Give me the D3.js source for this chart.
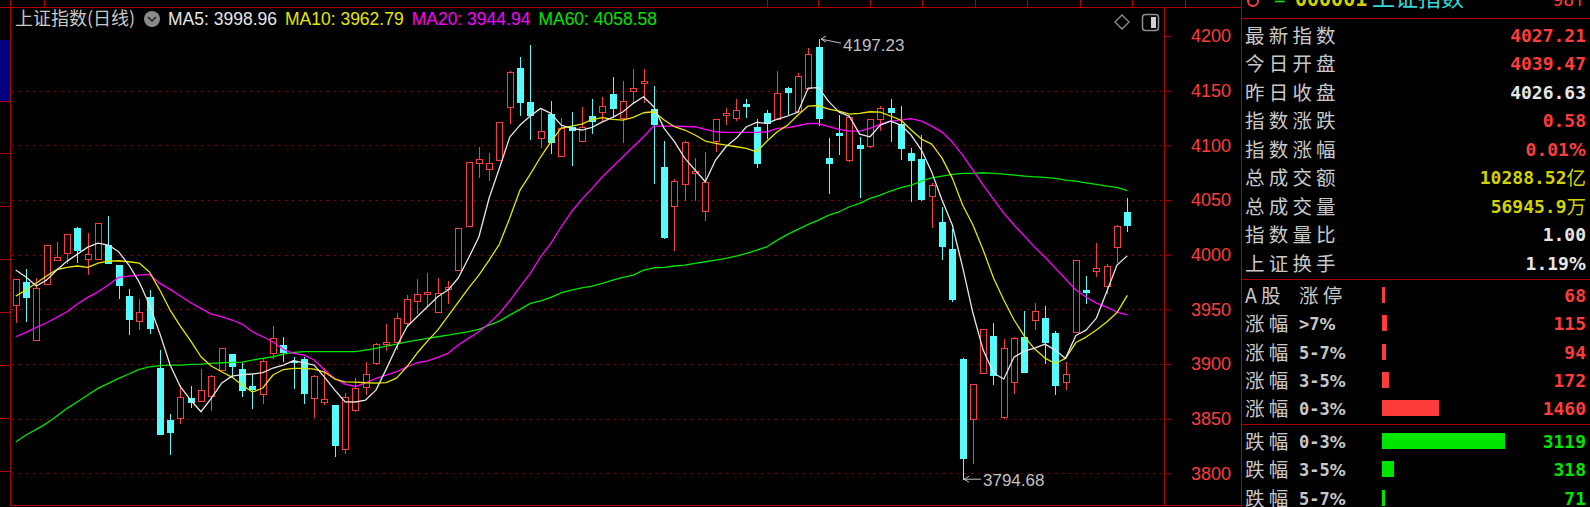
<!DOCTYPE html>
<html><head><meta charset="utf-8">
<script src="https://cdn.jsdelivr.net/npm/d3@7/dist/d3.min.js"></script>
<style>
html,body{margin:0;padding:0;background:#000;overflow:hidden}
svg{display:block}
</style></head>
<body>
<svg id="chart" width="1590" height="507"></svg>
<script>
// ---------------- data ----------------
const opens=[3953.7,3974.7,3922,3972.9,3994.9,4001.8,4024.1,3996,3995.9,4008.9,
3990.6,3962.5,3939.3,3961,3896.6,3848.8,3850.6,3868.6,3866.4,3871.2,
3894.2,3909.2,3895.2,3880.2,3872.6,3909.8,3917.4,3903,3904.6,3868.6,
3865.7,3862.5,3822.3,3857.9,3878.7,3900.7,3918.3,3920.4,3937.2,3957.6,
3964,3947.9,3968.3,3986.5,4026.2,4084.1,4078.7,4086.6,4134.8,4171,
4139.9,4107,4128.7,4090.5,4117.1,4104.3,4126.9,4130.8,4146.7,4125.3,
4150,4156.8,4133,4080.5,4044.5,4064.7,4074.7,4040.2,4104,4127.8,
4124.8,4137.8,4117.1,4129.9,4124.1,4152.2,4131.4,4152.7,4190.2,4088.7,
4111,4086.6,4100.3,4099.4,4124.1,4134.5,4119.3,4093,4087.5,4053.7,
4029.6,4004.9,3904.6,3849.4,3892.1,3925.6,3851.8,3883.8,3924.4,3940.3,
3941.8,3928.6,3883.8,3929.6,3967.7,3985.4,3971.6,4007.3,4039.47];
const highs=[3977.5,3987.2,3979,4009,4011.9,4018.6,4025.8,4020.1,4029.3,4035.4,
3991,3968.3,3959.9,3967.7,3912.8,3854,3881.3,3879.9,3895.2,3890,
3914.4,3909.5,3901.2,3889.7,3905.1,3935,3924.4,3906.1,3906.1,3890,
3896.1,3862.5,3873.2,3886.9,3902.1,3919,3936.6,3946.4,3963.1,3977.5,
3983,3979,3975.9,4024.5,4084.5,4098.2,4092.7,4121.6,4168.3,4180.6,
4191.8,4133,4140.6,4125.3,4130.2,4135.4,4142.1,4144,4162.8,4158.9,
4169.6,4169.6,4154.6,4104,4069,4104,4088.6,4094.2,4124.5,4133.9,
4142.1,4142.1,4124.1,4132.3,4168.3,4153.1,4165.9,4188.8,4197.23,4106.5,
4127.8,4128,4107.9,4124.5,4136,4142.4,4136,4097.3,4109.5,4065.8,
4043.3,4023.2,3905.2,3882,3932.5,3937.8,3922.6,3925,3948.8,3955.5,
3953.1,3930.5,3902.1,3995.5,3980.5,4010.4,3991.5,4027,4051.6];
const lows=[3938.7,3939.6,3922,3972.9,3994.9,3992.1,3993.3,3982.1,3995.9,3992.1,
3960.1,3927.5,3931.8,3928.6,3835.7,3817.7,3846.5,3861,3866.4,3857.7,
3894.2,3888.1,3870.7,3860,3864.3,3906,3902.8,3877.8,3864.6,3852,
3863.7,3816.1,3818.9,3857,3872.3,3900,3912.8,3913.5,3936,3946.9,
3954,3947.9,3956.1,3986,4026.2,4071.3,4068.3,4086.6,4120.7,4127.8,
4105.5,4098.8,4093.3,4090.5,4082,4104,4111,4123.2,4126.2,4103.4,
4139.9,4139.9,4065.8,4015,4004.3,4050,4050,4031.7,4094.8,4119.3,
4123.2,4126.2,4080.5,4107,4124,4128.4,4131,4152,4118.6,4056.2,
4091.8,4086,4053,4099,4114.1,4104,4087.5,4049.4,4050,4025.1,
3996.1,3957.9,3794.68,3809.7,3892,3881.7,3851,3873.8,3893,3931.8,
3901.2,3872.6,3876.9,3929,3956.1,3980.8,3964.7,3993.6,4021.9];
const closes=[3977.5,3961.6,3970,4008.9,3998.2,4018.6,4004.3,4000.6,4029.3,3992.1,
3972.6,3941.2,3947.3,3933.2,3835.7,3838.1,3870.3,3865.5,3876.2,3889.3,
3914.4,3898.6,3876.2,3876.9,3903.2,3923.8,3911.3,3901.8,3873.9,3889.3,
3867.7,3825.9,3870.1,3877.8,3890.9,3918.3,3920.4,3941.8,3959.5,3963.8,
3966.1,3965.2,3970.2,4024.1,4084.5,4087.3,4084.1,4121.6,4166.8,4139.9,
4127.8,4113.4,4103.4,4115.6,4114.1,4117.1,4122.6,4136.3,4134.5,4140.9,
4152.2,4158.9,4119.5,4015.9,4067.7,4103.4,4076.6,4066.8,4124.1,4129.9,
4132.3,4136,4083.6,4120.2,4147.6,4148.5,4163.7,4183.3,4124.7,4083.6,
4109.5,4126.2,4097.3,4124.1,4134.5,4130.2,4097.3,4086.6,4050.7,4063.7,
4008.2,3959.2,3813.8,3881.4,3932,3890,3914.4,3924.1,3893,3948.5,
3920.4,3880.8,3890.9,3995.1,3966.1,3987.5,3989.9,4026.63,4027.21];
const ma5=[3986,3979.6,3971.4,3976.8,3986,3994.2,4000.6,4007,4010.7,4008.9,
4002.7,3990.6,3975,3954,3928.1,3899.1,3879.3,3867.1,3856.4,3868.6,
3882.4,3889,3890.4,3890.9,3892.2,3896.4,3899.1,3903.2,3901.2,3899.1,
3888.1,3876.2,3865.5,3865.3,3867.1,3876.2,3895.4,3915.6,3933.9,3943.3,
3952.4,3961.6,3967.7,3978.7,3997,4016.2,4051.9,4079.3,4107.6,4118.6,
4126.9,4133.9,4129.3,4118.6,4115.6,4114.1,4116.5,4121.6,4125.7,4130.8,
4138.5,4144.5,4135.4,4115.6,4103.4,4088.4,4077.5,4066.8,4086.6,4098.8,
4106.5,4117.1,4121.1,4120.2,4124.1,4126.9,4130.5,4152.5,4152.9,4140.1,
4130.5,4126.6,4110.4,4107.9,4118.6,4122.3,4118.6,4109.5,4095.8,4075.6,
4050,4027.2,3988.7,3946.7,3912.8,3891.8,3886.3,3906.4,3911.9,3914.6,
3918.3,3912.8,3905.2,3926.1,3931.1,3942.1,3966.1,3990.6,3998.96];
const ma10=[3962.2,3967.7,3974.1,3980.5,3986.5,3988.5,3989.7,3988.5,3992.4,3994.2,
3994.5,3993.6,3992.4,3984.2,3967.7,3949.4,3934.8,3921.3,3906.7,3898.2,
3893,3888.1,3880.8,3874.4,3878.1,3890,3895,3896.1,3896.1,3895.4,
3892.7,3886.3,3883.8,3883.5,3882.9,3882.6,3883,3887.2,3897.5,3910.1,
3921,3931.1,3943.9,3956.7,3969.5,3981.4,3995.1,4009.8,4033.6,4059.2,
4073.8,4089.4,4103.4,4115.9,4117.7,4119.5,4123.7,4125.5,4123.8,4123.2,
4125.7,4129.9,4130.8,4123.2,4117.1,4114.1,4109.5,4104,4101.9,4100.3,
4098.8,4097.3,4094.2,4104,4112.5,4118.6,4127.8,4136,4136.5,4133.3,
4131.4,4128.7,4129.3,4130.8,4130.5,4126.9,4123.2,4114.1,4105.8,4101.2,
4088.4,4070.1,4045.5,4027.2,4004.3,3978.7,3958.6,3940.3,3925.6,3913.7,
3905.5,3900.5,3905.2,3919.7,3924.7,3931.1,3938.4,3947.1,3962.79];
const ma20=[3925,3929,3933.6,3937.8,3942.7,3947.9,3954.9,3961,3966.1,3972.3,
3979.3,3980.5,3981.4,3982.1,3973.8,3968.3,3962.2,3956.1,3951,3945.7,
3943.3,3940.3,3936.6,3929.6,3925,3920.4,3913.5,3909.8,3908.2,3903.7,
3894.5,3886.9,3881.7,3879.3,3882.9,3886.9,3890,3893,3897.5,3901.2,
3903,3906.1,3909.8,3917.4,3923.5,3929.6,3937.2,3946.4,3957.9,3970.7,
3983,3998.2,4010.4,4025.6,4039.3,4050.7,4060.7,4071.3,4080.5,4089.6,
4098.8,4107.9,4117.7,4117.7,4117.7,4117.3,4117.1,4114.7,4112.5,4111.9,
4111.9,4111.9,4111.9,4112.5,4115.6,4116.2,4118,4120.2,4120,4117.1,
4114.7,4113.1,4113.1,4115.6,4119.5,4122.3,4123.2,4124.6,4122.3,4117.7,
4112.2,4103.1,4091.2,4077.5,4063.7,4050.9,4038.1,4027.2,4017.1,4007,
3997.9,3987.8,3977.8,3967.7,3961.3,3955.8,3952.1,3947.6,3944.94];
const ma60=[3828.7,3835.1,3840.3,3845.8,3852.5,3859.5,3865.5,3871.7,3877.8,3882.4,
3886.9,3890.9,3895.2,3897.5,3898.5,3899.1,3899.1,3899.7,3900,3900.7,
3901.2,3901.6,3901.8,3903.7,3905.2,3906.7,3909.2,3910.7,3911.3,3911.3,
3911.3,3911.3,3911.3,3911.3,3912.8,3914.4,3916.5,3918.3,3920.4,3922,
3923.5,3925,3926.5,3928.1,3929.6,3931.8,3935.7,3939.3,3944.8,3950,
3955.5,3957.9,3961,3965.2,3967.7,3969.8,3971.4,3973.8,3976.8,3979.3,
3981.4,3986,3988.1,3988.5,3989.7,3990.6,3992.1,3993.6,3995.1,3996.7,
3998.8,4001.3,4004.3,4007.3,4013.4,4018.6,4023.2,4027.8,4031.7,4036.3,
4039.3,4043.9,4047,4051.6,4054.6,4058.3,4061.3,4063.7,4067.4,4070.4,
4072,4073.5,4074.4,4074.4,4075,4074.4,4073.8,4072.9,4072,4071.3,
4070.8,4069.9,4068.3,4067.4,4065.8,4064.4,4062.8,4061.6,4058.58];
const gridLevels=[3800,3850,3900,3950,4000,4050,4100,4150];
const axisTicks=[3800,3850,3900,3950,4000,4050,4100,4150,4200];
const maNames=['MA5','MA10','MA20','MA60'];
const maLast=['3998.96','3962.79','3944.94','4058.58'];
const infoLabels=['最新指数','今日开盘','昨日收盘','指数涨跌','指数涨幅','总成交额','总成交量','指数量比','上证换手'];
const infoValues=['4027.21','4039.47','4026.63','0.58','0.01%','10288.52','56945.9','1.00','1.19%'];
const infoUnits=['','','','','','亿','万','',''];
const breadthNames=['A股','涨幅','涨幅','涨幅','涨幅','跌幅','跌幅','跌幅'];
const breadthRanges=['涨停','>7%','5-7%','3-5%','0-3%','0-3%','3-5%','5-7%'];
const breadthCounts=[68,115,94,172,1460,3119,318,71];

// ---------------- style ----------------
const RED='#ff3c3c', CYAN='#54fcfc', FRAME='#b00000', GRID='#900000';
const LABEL='#c8c8c8', WHITE='#e6e6e6', YEL='#d2d200', GRN='#00e600';
const maColors=['#e6e6e6','#e6e600','#ff00ff','#00e600'];
const CJK='"Noto Sans CJK SC","Noto Sans CJK JP",sans-serif';
const SANS='"Liberation Sans",Arial,sans-serif';
const MONO='"DejaVu Sans Mono",monospace';
const WIDE='"DejaVu Sans",sans-serif';
const LABEL_SIZE=19.5, LABEL_SPACING=4.2;

const svg=d3.select('#chart');
svg.append('rect').attr('width',1590).attr('height',507).attr('fill','#000');

const n=closes.length;
const x=d3.scaleLinear().domain([0,n-1]).range([15.7,1127.3]);
const y=d3.scaleLinear().domain([3800,4200]).range([473.4,36.1]);

// writes a numeric string: digits in mono, '%' in a wider face
function numText(sel,str,size){
  const parts=str.split('%');
  parts.forEach((p,k)=>{
    if(p) sel.append('tspan').attr('font-family',MONO).attr('font-weight','bold').attr('font-size',size).text(p);
    if(k<parts.length-1) sel.append('tspan').attr('font-family',WIDE).attr('font-weight','bold').attr('font-size',size-1).text('%');
  });
}

// frame
const fr=svg.append('g').attr('stroke',FRAME).attr('stroke-width',1).attr('shape-rendering','crispEdges');
fr.append('line').attr('x1',0).attr('x2',1242).attr('y1',7.5).attr('y2',7.5);
fr.append('line').attr('x1',10.5).attr('x2',10.5).attr('y1',0).attr('y2',506);
fr.append('line').attr('x1',1164.5).attr('x2',1164.5).attr('y1',7).attr('y2',506);
fr.append('line').attr('x1',10).attr('x2',1242).attr('y1',505.5).attr('y2',505.5);
fr.append('line').attr('x1',1241.5).attr('x2',1241.5).attr('y1',0).attr('y2',507);
[18.5,279.5,424.5].forEach(v=>fr.append('line').attr('x1',1242).attr('x2',1590).attr('y1',v).attr('y2',v));
// header-table cell separators above the chart (cut by the top edge)
const sepX=[44.5,767.5,818.5,870.5,922.5,975.5,1027.5,1080.5,1132.5,1185.5];
fr.selectAll('.sep').data(sepX).join('line').attr('x1',d=>d).attr('x2',d=>d).attr('y1',0).attr('y2',7);

// left side block + ticks
svg.append('rect').attr('x',0).attr('y',40).attr('width',10).attr('height',61).attr('fill','#000080');
const leftTick=d3.scaleLinear().domain([0,7]).range([100.5,470.5]);
fr.selectAll('.lt').data(d3.range(8)).join('line')
  .attr('x1',0).attr('x2',10).attr('y1',d=>Math.round(leftTick(d))+0.5).attr('y2',d=>Math.round(leftTick(d))+0.5);

// grid
svg.append('g').selectAll('line').data(gridLevels).join('line')
  .attr('x1',12).attr('x2',1163)
  .attr('y1',d=>Math.round(y(d))+0.5).attr('y2',d=>Math.round(y(d))+0.5)
  .attr('stroke',GRID).attr('stroke-dasharray','2,5');

// axis
const axis=d3.axisRight(y).tickValues(axisTicks).tickSize(7).tickPadding(20).tickFormat(d3.format('d'));
const ag=svg.append('g').attr('transform','translate(1164,0)').call(axis);
ag.select('.domain').remove();
ag.selectAll('line').attr('stroke',FRAME);
ag.selectAll('text').attr('fill',RED).attr('font-family',SANS).attr('font-size',18);

// candles
const cg=svg.append('g').attr('shape-rendering','crispEdges');
d3.range(n).forEach(i=>{
  const cx=Math.round(x(i));
  const o=opens[i],c=closes[i],h=highs[i],l=lows[i];
  const up=c>=o;
  const col=up?RED:CYAN;
  const yt=Math.round(y(Math.max(o,c))), yb=Math.round(y(Math.min(o,c)));
  cg.append('line').attr('x1',cx+0.5).attr('x2',cx+0.5)
    .attr('y1',Math.round(y(h))).attr('y2',Math.round(y(l))+1).attr('stroke',col);
  if(up){
    if(yb-yt<2){
      cg.append('rect').attr('x',cx-3).attr('y',yt).attr('width',7).attr('height',Math.max(1,yb-yt+1)).attr('fill',col);
    } else {
      cg.append('rect').attr('x',cx-2.5).attr('y',yt+0.5).attr('width',6).attr('height',yb-yt)
        .attr('fill','#000').attr('stroke',col);
    }
  } else {
    cg.append('rect').attr('x',cx-3).attr('y',yt).attr('width',7).attr('height',Math.max(1,yb-yt+1)).attr('fill',col);
  }
});

// MA lines
const line=d3.line().x((d,i)=>x(i)).y(d=>y(d));
[ma60,ma20,ma10,ma5].forEach((arr,k)=>{
  svg.append('path').attr('d',line(arr)).attr('fill','none')
    .attr('stroke',maColors[3-k]).attr('stroke-width',1.3).attr('stroke-linejoin','round');
});

// high / low markers
const hi=d3.maxIndex(highs), lo=d3.minIndex(lows);
const hx=Math.round(x(hi)), hy=y(highs[hi]);
const mk=svg.append('g').attr('stroke','#c0c0c0').attr('fill','none').attr('stroke-width',1);
mk.append('path').attr('d',`M${hx+2},${hy} l5,-3 M${hx+2},${hy} l5,3 M${hx+2},${hy} L${hx+22},${hy+4}`);
svg.append('text').attr('x',hx+24).attr('y',hy+12).text(highs[hi].toFixed(2))
  .attr('fill','#c0c0c0').attr('font-family',SANS).attr('font-size',17);
const lx=Math.round(x(lo)), ly=y(lows[lo]);
mk.append('path').attr('d',`M${lx+1},${ly} l5,-3 M${lx+1},${ly} l5,3 M${lx+1},${ly} L${lx+18},${ly}`);
svg.append('text').attr('x',lx+20).attr('y',ly+7).text(lows[lo].toFixed(2))
  .attr('fill','#c0c0c0').attr('font-family',SANS).attr('font-size',17);

// title + legend
svg.append('text').attr('x',15).attr('y',25).text('上证指数(日线)')
  .attr('fill','#c8c8c8').attr('font-family',CJK).attr('font-size',18);
svg.append('circle').attr('cx',152).attr('cy',19).attr('r',8).attr('fill','#8a8a8a');
svg.append('path').attr('d','M148,17 l4,4 l4,-4').attr('stroke','#222').attr('stroke-width',1.5).attr('fill','none');
const lg=svg.append('text').attr('x',168).attr('y',25).attr('font-family',SANS).attr('font-size',17.5);
maNames.forEach((nm,k)=>{
  lg.append('tspan').attr('fill',maColors[k]).attr('dx',k?8:0).text(`${nm}: ${maLast[k]}`);
});

// top-right chart icons
svg.append('path').attr('d','M1122,15 l7,7 l-7,7 l-7,-7 z').attr('fill','none').attr('stroke','#909090').attr('stroke-width',1.3);
svg.append('rect').attr('x',1142.5).attr('y',14.5).attr('width',16).attr('height',16).attr('rx',3)
  .attr('fill','none').attr('stroke','#909090').attr('stroke-width',1.5);
svg.append('rect').attr('x',1151).attr('y',17).attr('width',5).attr('height',11).attr('fill','#d0d0d0');

// ---------------- right panel ----------------
const rp=svg.append('g');
// header row, cut by the top edge
rp.append('circle').attr('cx',1253).attr('cy',1).attr('r',5).attr('fill','none').attr('stroke',RED).attr('stroke-width',2);
rp.append('text').attr('x',1274).attr('y',6).text('=').attr('fill',GRN).attr('font-family',SANS).attr('font-size',20);
rp.append('text').attr('x',1295).attr('y',6).text('000001').attr('fill',YEL).attr('font-family',MONO).attr('font-weight','bold').attr('font-size',20);
rp.append('text').attr('x',1372).attr('y',6).text('上证指数').attr('fill','#30d8d8').attr('font-family',CJK).attr('font-size',23);
rp.append('text').attr('x',1585).attr('y',6).attr('text-anchor','end').text('98↑').attr('fill',RED).attr('font-family',MONO).attr('font-size',18);

const infoColors=[RED,RED,WHITE,RED,RED,YEL,YEL,WHITE,WHITE];
const rowY=d3.scaleLinear().domain([0,8]).range([35,263]);
infoLabels.forEach((lb,k)=>{
  const yy=rowY(k);
  rp.append('text').attr('x',1245).attr('y',yy+7.5).text(lb).attr('fill',LABEL)
    .attr('font-family',CJK).attr('font-size',LABEL_SIZE).attr('letter-spacing',LABEL_SPACING);
  const t=rp.append('text').attr('x',1586).attr('y',yy+6.5).attr('text-anchor','end').attr('fill',infoColors[k]);
  numText(t,infoValues[k],18);
  if(infoUnits[k]) t.append('tspan').attr('font-family',CJK).attr('font-size',19.5).attr('dy',1).text(infoUnits[k]);
});

const brY=[295,323,352,380,408,441,469,498];
const bw=d3.scaleLinear().domain([0,3119]).range([0,122.5]);
breadthNames.forEach((nm,k)=>{
  const yy=brY[k];
  const col=k<5?RED:GRN;
  rp.append('text').attr('x',1245).attr('y',yy+7.5).text(nm).attr('fill',LABEL)
    .attr('font-family',CJK).attr('font-size',LABEL_SIZE).attr('letter-spacing',LABEL_SPACING);
  if(k===0){
    rp.append('text').attr('x',1299).attr('y',yy+7.5).text(breadthRanges[k]).attr('fill',LABEL)
      .attr('font-family',CJK).attr('font-size',LABEL_SIZE).attr('letter-spacing',LABEL_SPACING);
  } else {
    const t=rp.append('text').attr('x',1299).attr('y',yy+6.5).attr('fill',LABEL);
    numText(t,breadthRanges[k],17);
  }
  rp.append('rect').attr('x',1382).attr('y',yy-8).attr('width',Math.max(1,Math.round(bw(breadthCounts[k])))).attr('height',16).attr('fill',col);
  rp.append('text').attr('x',1586).attr('y',yy+6.5).attr('text-anchor','end').text(breadthCounts[k])
    .attr('fill',col).attr('font-family',MONO).attr('font-weight','bold').attr('font-size',18);
});
</script>
</body></html>
